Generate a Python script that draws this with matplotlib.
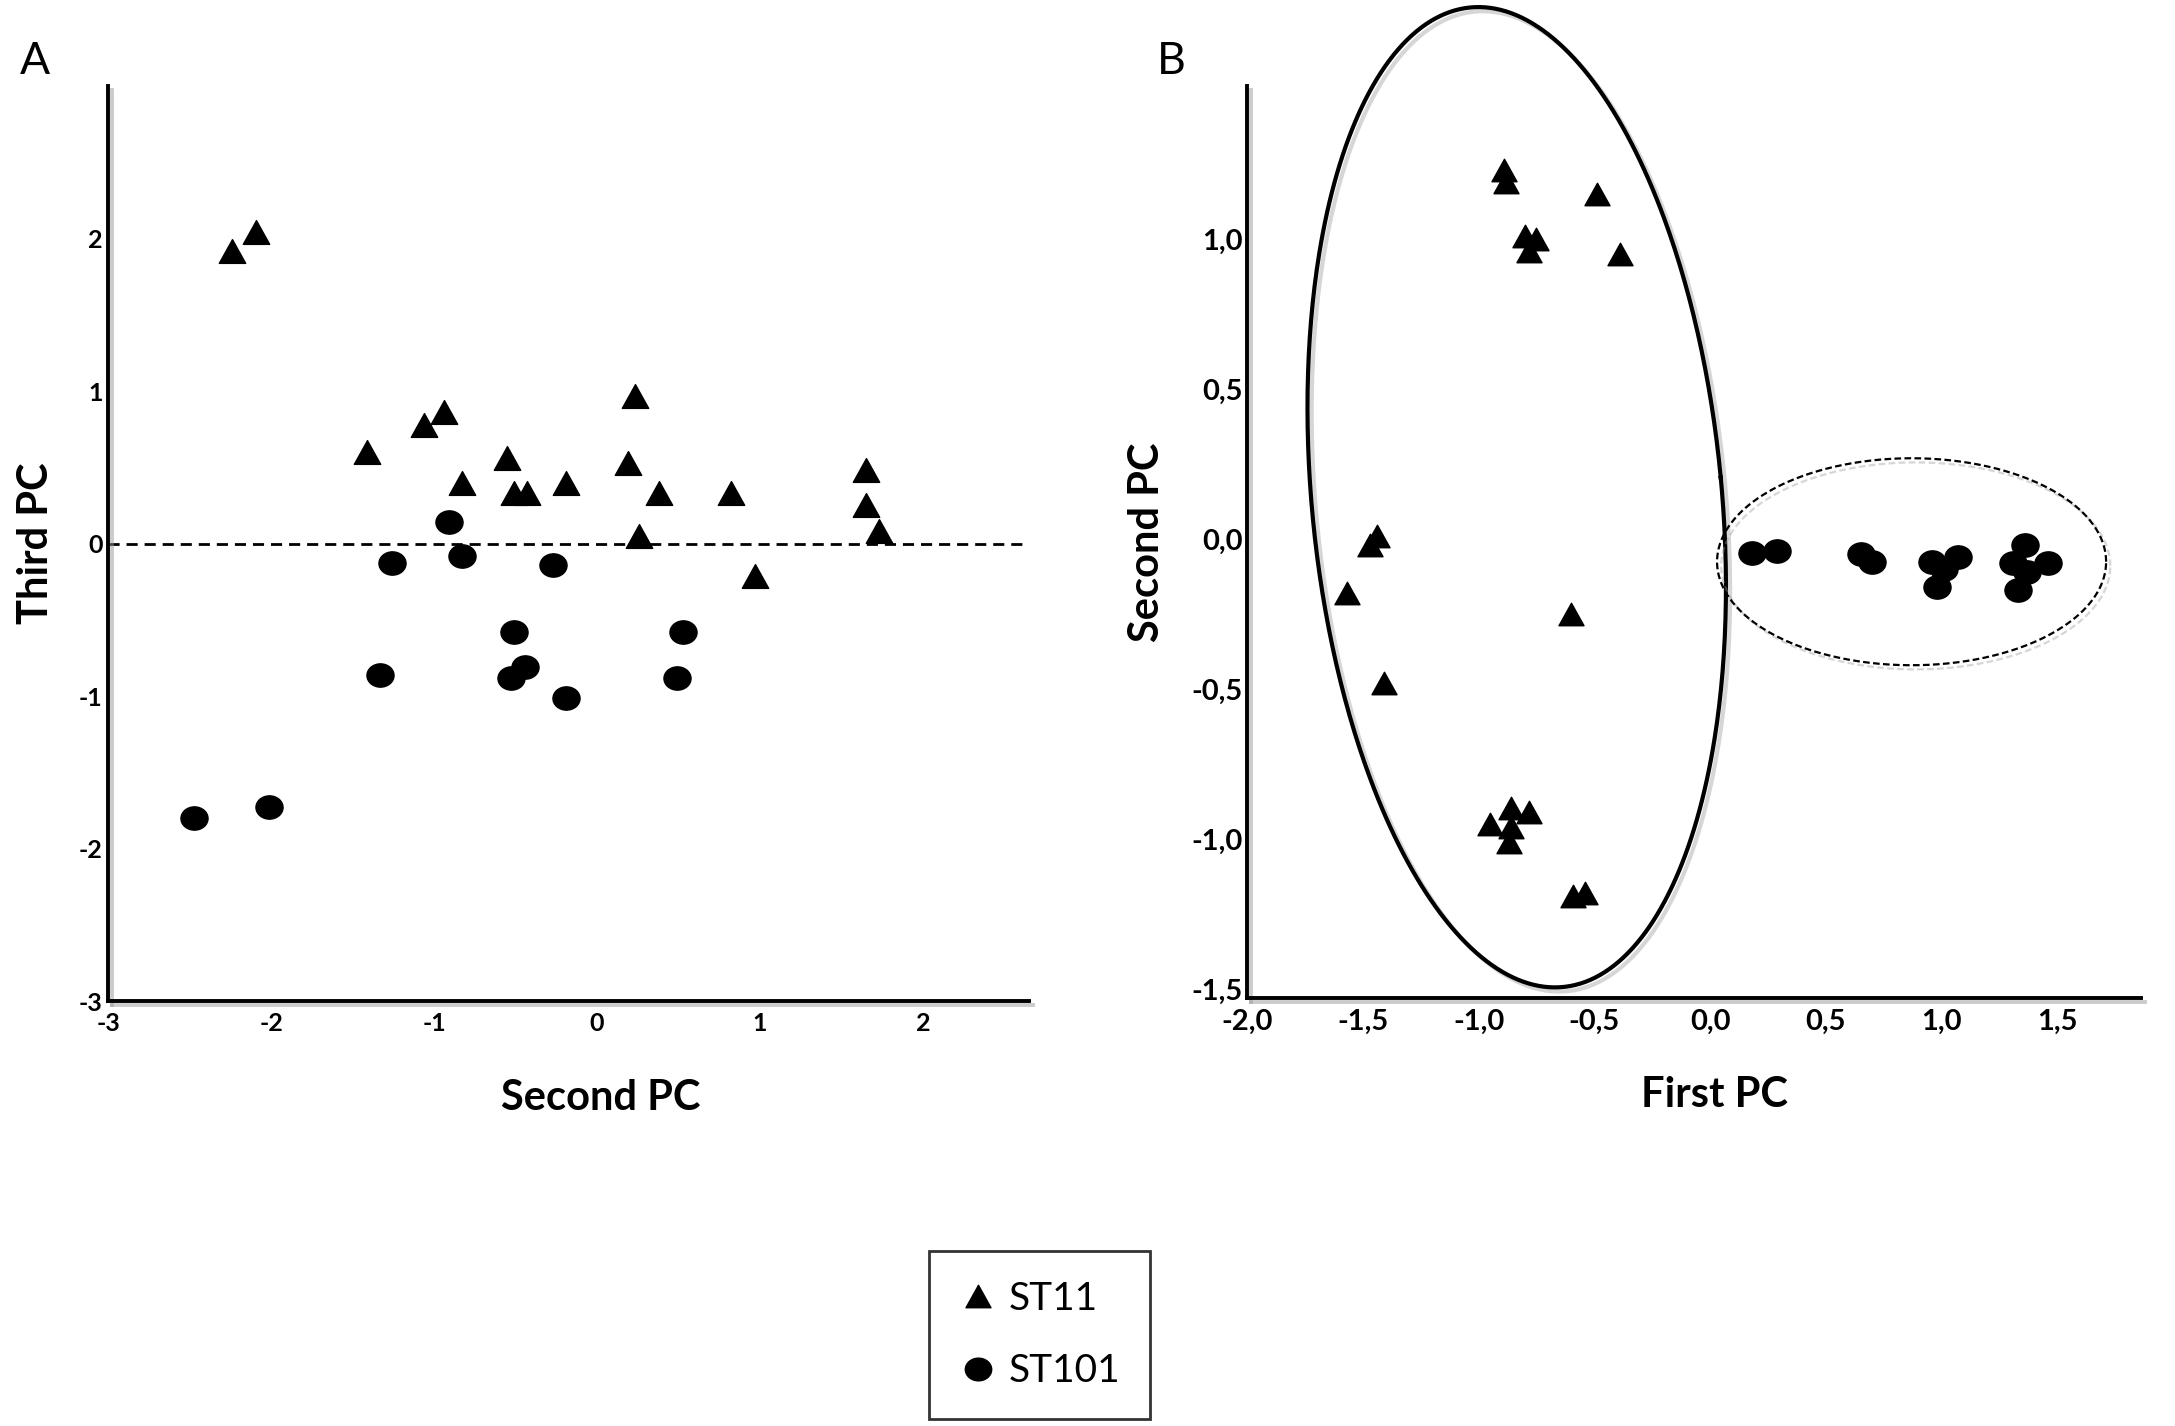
import numpy as np
import matplotlib
matplotlib.use("Agg")
import matplotlib.pyplot as plt
import matplotlib.patheffects as pe
from matplotlib.path import Path
from matplotlib.transforms import Affine2D
from matplotlib.lines import Line2D

plt.rcParams["font.family"] = ["Lato", "DejaVu Sans"]

# panel A: second PC vs third PC
a_tri_x = [-2.24, -2.09, -1.41, -1.06, -0.94, -0.83, -0.55, -0.51, -0.43, -0.19,
           0.19, 0.23, 0.38, 0.26, 0.82, 0.97, 1.65, 1.65, 1.73]
a_tri_y = [1.92, 2.04, 0.60, 0.78, 0.86, 0.40, 0.56, 0.33, 0.33, 0.40,
           0.53, 0.97, 0.33, 0.05, 0.33, -0.21, 0.48, 0.25, 0.08]
a_dot_x = [-2.47, -2.01, -1.33, -1.26, -0.91, -0.83, -0.53, -0.51, -0.44, -0.27,
           -0.19, 0.49, 0.53]
a_dot_y = [-1.80, -1.73, -0.86, -0.13, 0.14, -0.08, -0.88, -0.58, -0.81, -0.14,
           -1.01, -0.88, -0.58]

# panel B: first PC vs second PC
b_tri_x = [-0.89, -0.88, -0.49, -0.80, -0.75, -0.78, -0.39, -1.44, -1.47, -1.57,
           -0.60, -1.41, -0.95, -0.86, -0.78, -0.86, -0.87, -0.59, -0.54]
b_tri_y = [1.23, 1.19, 1.15, 1.01, 1.00, 0.96, 0.95, 0.01, -0.02, -0.18,
           -0.25, -0.48, -0.95, -0.895, -0.91, -0.96, -1.01, -1.19, -1.18]
b_dot_x = [0.18, 0.29, 0.65, 0.70, 0.96, 1.07, 1.01, 0.98, 1.36, 1.31, 1.37, 1.46, 1.33]
b_dot_y = [-0.045, -0.04, -0.05, -0.075, -0.075, -0.06, -0.10, -0.16, -0.02, -0.08,
           -0.11, -0.08, -0.17]

a_xticks = [-3, -2, -1, 0, 1, 2]
a_xlabels = ["-3", "-2", "-1", "0", "1", "2"]
a_yticks = [-3, -2, -1, 0, 1, 2]
a_ylabels = ["-3", "-2", "-1", "0", "1", "2"]
b_xticks = [-2.0, -1.5, -1.0, -0.5, 0.0, 0.5, 1.0, 1.5]
b_xlabels = ["-2,0", "-1,5", "-1,0", "-0,5", "0,0", "0,5", "1,0", "1,5"]
b_yticks = [-1.5, -1.0, -0.5, 0.0, 0.5, 1.0]
b_ylabels = ["-1,5", "-1,0", "-0,5", "0,0", "0,5", "1,0"]

legend_labels = ["ST11", "ST101"]

LABEL_FS = 30

# marker shapes: slightly flattened triangle and oval dot
tri = Path([(0, 0.9), (-1, -0.9), (1, -0.9), (0, 0.9)],
           [Path.MOVETO, Path.LINETO, Path.LINETO, Path.CLOSEPOLY])
oval = Path.unit_circle().transformed(Affine2D().scale(1.0, 0.86))

shadow = [pe.SimpleLineShadow(offset=(3, -3), shadow_color="0.6", alpha=0.5), pe.Normal()]

fig = plt.figure(figsize=(21.75, 14.26), dpi=100)
axA = fig.add_axes([0.0497, 0.298, 0.4234, 0.6417])
axB = fig.add_axes([0.5733, 0.300, 0.411, 0.6395])

for ax, fs, ypad in ((axA, 18, 4), (axB, 21, 3)):
    ax.spines["top"].set_visible(False)
    ax.spines["right"].set_visible(False)
    for s in ("left", "bottom"):
        ax.spines[s].set_linewidth(2.8)
        ax.spines[s].set_path_effects(shadow)
    ax.tick_params(axis="x", length=0, labelsize=fs, pad=8)
    ax.tick_params(axis="y", length=0, labelsize=fs, pad=ypad)

# ---- panel A
axA.set_xlim(-3, 2.65)
axA.set_ylim(-3, 3)
axA.axhline(0, color="black", lw=2, ls=(0, (4, 2.5)), zorder=1)
axA.plot(a_tri_x, a_tri_y, ls="none", marker=tri, ms=19, color="black", zorder=3)
axA.plot(a_dot_x, a_dot_y, ls="none", marker=oval, ms=19.5, color="black", zorder=3)
axA.set_xticks(a_xticks, a_xlabels, fontweight="bold", fontsize=18)
axA.set_yticks(a_yticks, a_ylabels, fontweight="bold", fontsize=18)
axA.set_xlabel("Second PC", fontsize=LABEL_FS, fontweight="bold")
axA.set_ylabel("Third PC", fontsize=LABEL_FS, fontweight="bold")
axA.xaxis.set_label_coords(0.535, -0.085)
axA.yaxis.set_label_coords(-0.058, 0.5)

# ---- panel B
axB.set_xlim(-2.0, 1.86)
axB.set_ylim(-1.53, 1.51)
axB.plot(b_tri_x, b_tri_y, ls="none", marker=tri, ms=18, color="black", zorder=3)
axB.plot(b_dot_x, b_dot_y, ls="none", marker=oval, ms=19.5, color="black", zorder=3)
axB.set_xticks(b_xticks, b_xlabels, fontweight="bold", fontsize=21)
axB.set_yticks(b_yticks, b_ylabels, fontweight="bold", fontsize=21)
axB.set_xlabel("First PC", fontsize=LABEL_FS, fontweight="bold")
axB.set_ylabel("Second PC", fontsize=LABEL_FS, fontweight="bold")
axB.xaxis.set_label_coords(0.523, -0.085)
axB.yaxis.set_label_coords(-0.09, 0.5)


def draw_ellipse(ax, cx, cy, half_w, half_h, tilt, **kw):
    # tilt is applied in screen space so the shape is not sheared by the axis scales
    p = ax.transData.transform([(0, 0), (1, 1)])
    sx, sy = p[1] - p[0]
    a, b = half_w * sx, half_h * sy
    t = np.linspace(0, 2 * np.pi, 500)
    u, v = a * np.cos(t), b * np.sin(t)
    th = np.radians(tilt)
    x = cx + (u * np.cos(th) - v * np.sin(th)) / sx
    y = cy + (u * np.sin(th) + v * np.cos(th)) / sy
    ax.plot(x, y, clip_on=False, color="black", zorder=2,
            path_effects=[pe.SimpleLineShadow(offset=(3, -3), shadow_color="0.6", alpha=0.4),
                          pe.Normal()], **kw)


draw_ellipse(axB, -0.835, 0.14, 0.885, 1.64, 5.4, lw=3)
draw_ellipse(axB, 0.87, -0.075, 0.84, 0.345, 0, lw=1.6, ls=(0, (3, 1.5)))

fig.text(0.016, 0.957, "A", fontsize=32, ha="center", va="center")
fig.text(0.5385, 0.957, "B", fontsize=32, ha="center", va="center")

handles = [Line2D([], [], ls="none", marker=tri, ms=18, color="black"),
           Line2D([], [], ls="none", marker=oval, ms=19, color="black")]
leg = fig.legend(handles, legend_labels, loc="center", bbox_to_anchor=(0.478, 0.0638),
                 fontsize=28, frameon=True, fancybox=False, edgecolor="black",
                 handlelength=1.0, handletextpad=0.3, labelspacing=0.95, borderpad=0.75)
leg.get_frame().set_linewidth(2)

fig.savefig("out.png", dpi=100)
